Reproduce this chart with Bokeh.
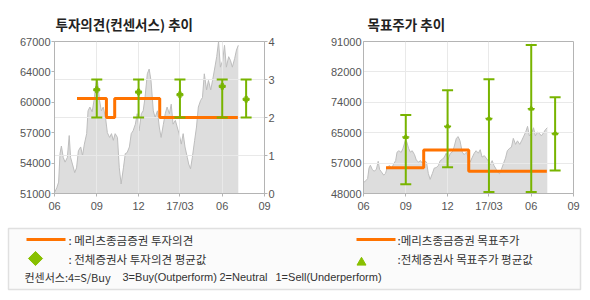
import numpy as np
import pandas as pd
from bokeh.plotting import figure
from bokeh.models import Range1d, LinearAxis, FixedTicker
from bokeh.layouts import column, row
from bokeh.embed import file_html
from bokeh.resources import INLINE
from bokeh.core.properties import value

# ---------------- data ----------------
price_dates = [
    "2016-06-01", "2016-06-06", "2016-06-10", "2016-06-13", "2016-06-16", "2016-06-20",
    "2016-06-24", "2016-06-29", "2016-07-03", "2016-07-06", "2016-07-10", "2016-07-15",
    "2016-07-19", "2016-07-23", "2016-07-28", "2016-08-01", "2016-08-05", "2016-08-10",
    "2016-08-13", "2016-08-17", "2016-08-22", "2016-08-26", "2016-08-31", "2016-09-03",
    "2016-09-07", "2016-09-11", "2016-09-15", "2016-09-20", "2016-09-24", "2016-09-29",
    "2016-10-03", "2016-10-07", "2016-10-11", "2016-10-16", "2016-10-20", "2016-10-24",
    "2016-10-29", "2016-11-02", "2016-11-06", "2016-11-11", "2016-11-15", "2016-11-19",
    "2016-11-24", "2016-11-28", "2016-12-02", "2016-12-07", "2016-12-11", "2016-12-15",
    "2016-12-20", "2016-12-24", "2016-12-28", "2017-01-02", "2017-01-06", "2017-01-11",
    "2017-01-15", "2017-01-19", "2017-01-24", "2017-01-28", "2017-02-01", "2017-02-06",
    "2017-02-10", "2017-02-14", "2017-02-19", "2017-02-23", "2017-02-27", "2017-03-04",
    "2017-03-08", "2017-03-12", "2017-03-17", "2017-03-20", "2017-03-24", "2017-03-28",
    "2017-04-02", "2017-04-06", "2017-04-10", "2017-04-15", "2017-04-19", "2017-04-23",
    "2017-04-28", "2017-05-02", "2017-05-07", "2017-05-11", "2017-05-15", "2017-05-20",
    "2017-05-24", "2017-05-28", "2017-06-02", "2017-06-06", "2017-06-10", "2017-06-15",
    "2017-06-19", "2017-06-23", "2017-06-28", "2017-07-02", "2017-07-06",
]
price_values = [
    51100, 51600, 52200, 55200, 56000, 54800,
    54300, 54800, 57100, 54800, 54100, 53200,
    53700, 55500, 55900, 55000, 56200, 57300,
    59700, 60100, 59600, 60800, 63000, 62700,
    60800, 59700, 60100, 59000, 57400, 56900,
    57300, 56600, 57300, 56900, 53700, 52000,
    53700, 55200, 55300, 55900, 57300, 57600,
    58300, 59400, 57600, 59400, 59700, 61100,
    63600, 64100, 62900, 59700, 59000, 59700,
    58000, 56900, 58300, 59400, 60100, 59400,
    60400, 58300, 58700, 58000, 57300, 56200,
    57300, 55900, 54800, 54100, 53600, 54800,
    56600, 58000, 60100, 60800, 61100, 63600,
    61900, 62900, 61900, 62900, 64000, 65400,
    67000, 64300, 65000, 66600, 64300, 65400,
    65000, 64300, 65200, 66100, 66600,
]

# Meritz investment opinion (step changes) and target price
opinion_dates = ["2016-07-20", "2016-09-22", "2016-10-10", "2017-01-16", "2017-07-05"]
opinion_values = [2.5, 2.0, 2.5, 2.0, 2.0]
target_dates = ["2016-07-20", "2016-10-10", "2017-01-16", "2017-07-05"]
target_values = [55300, 60300, 54300, 54300]

# consensus (all brokers)
cons_dates = ["2016-09-01", "2016-12-01", "2017-03-01", "2017-06-01", "2017-07-23"]
cons_op_avg = [2.73, 2.67, 2.60, 2.82, 2.48]
cons_op_min = [2, 2, 2, 2, 2]
cons_op_max = [3, 3, 3, 3, 3]
cons_tp_avg = [64000, 67000, 69200, 72000, 65000]
cons_tp_min = [50600, 55400, 48400, 48400, 54500]
cons_tp_max = [70200, 77200, 80300, 90000, 75200]

x_tick_dates = ["2016-06-01", "2016-09-01", "2016-12-01", "2017-03-01", "2017-06-01", "2017-09-01"]
x_tick_labels = ["06", "09", "12", "17/03", "06", "09"]

left_price_ticks = [51000, 54200, 57400, 60600, 63800, 67000]
left_price_labels = ["51000", "54000", "57000", "60000", "64000", "67000"]
opinion_ticks = [0, 1, 2, 3, 4]
right_price_ticks = [48000, 56600, 65200, 73800, 82400, 91000]
right_price_labels = ["48000", "57000", "65000", "74000", "82000", "91000"]

title_left = "투자의견(컨센서스) 추이"
title_right = "목표주가 추이"

# ---------------- styles ----------------
ORANGE = "#ff7300"
GREEN = "#78b400"
FILL = "#dddddd"
EDGE = "#bdbdbd"
GRID = "#e9e9e9"
FRAME = "#b4b4b4"
LABEL = "#555555"
KFONT = "Noto Sans CJK KR"
NFONT = "Liberation Sans"

pdates = pd.to_datetime(price_dates)
odates = pd.to_datetime(opinion_dates)
tdates = pd.to_datetime(target_dates)
cdates = pd.to_datetime(cons_dates)
xt = pd.to_datetime(x_tick_dates)
xt_ms = [int(t.value // 10**6) for t in xt]
x_overrides = {m: l for m, l in zip(xt_ms, x_tick_labels)}


def style_common(p, title, offset):
    p.title.text = title
    p.title.align = "left"
    p.title.offset = offset
    p.title.standoff = 16
    p.title.text_font = KFONT
    p.title.text_font_size = "13.5px"
    p.title.text_font_style = "bold"
    p.title.text_color = "#222222"
    p.outline_line_color = FRAME
    p.xaxis.ticker = FixedTicker(ticks=xt_ms)
    p.xaxis.major_label_overrides = x_overrides
    p.xgrid.ticker = FixedTicker(ticks=xt_ms[1:-1])
    p.grid.grid_line_color = GRID
    p.grid.grid_line_width = 1
    for ax in p.axis:
        ax.axis_line_color = FRAME
        ax.major_tick_line_color = FRAME
        ax.major_tick_in = 0
        ax.major_tick_out = 3
        ax.major_label_text_font = NFONT
        ax.major_label_text_font_size = "11px"
        ax.major_label_text_color = LABEL
        ax.minor_tick_line_color = None
    p.xaxis.major_label_standoff = 3


# ---------------- left chart ----------------
p1 = figure(width=295, height=222, x_axis_type="datetime",
            x_range=Range1d(xt[0], xt[-1]), y_range=Range1d(0, 4),
            y_axis_location="right", output_backend="svg", toolbar_location=None,
            min_border_left=54, min_border_right=31, min_border_top=41, min_border_bottom=29)
p1.extra_y_ranges = {"price": Range1d(left_price_ticks[0], left_price_ticks[-1])}
lax = LinearAxis(y_range_name="price", ticker=FixedTicker(ticks=left_price_ticks),
                 major_label_overrides={t: l for t, l in zip(left_price_ticks, left_price_labels)})
p1.add_layout(lax, "left")
for ax in p1.yaxis:
    if ax is not lax:
        ax.ticker = FixedTicker(ticks=opinion_ticks)
p1.ygrid.ticker = FixedTicker(ticks=opinion_ticks[1:-1])
style_common(p1, title_left, 1)
for ax in p1.yaxis:
    ax.major_label_standoff = 1

p1.varea(x=pdates, y1=left_price_ticks[0], y2=price_values, fill_color=FILL,
         y_range_name="price", level="image")
p1.line(pdates, price_values, line_color=EDGE, line_width=1, y_range_name="price", level="image")
p1.step(odates, opinion_values, mode="after", line_color=ORANGE, line_width=3)
p1.segment(x0=cdates, y0=cons_op_min, x1=cdates, y1=cons_op_max, line_color=GREEN, line_width=2)
p1.scatter(cdates, cons_op_max, marker="dash", size=11, line_color=GREEN, line_width=2)
p1.scatter(cdates, cons_op_min, marker="dash", size=11, line_color=GREEN, line_width=2)
p1.scatter(cdates, cons_op_avg, marker="plus", size=6, fill_color=GREEN, line_color=GREEN)

# ---------------- right chart ----------------
p2 = figure(width=295, height=222, x_axis_type="datetime",
            x_range=Range1d(xt[0], xt[-1]),
            y_range=Range1d(right_price_ticks[0], right_price_ticks[-1]),
            output_backend="svg", toolbar_location=None,
            min_border_left=68, min_border_right=17, min_border_top=39, min_border_bottom=29)
p2.yaxis.ticker = FixedTicker(ticks=right_price_ticks)
p2.yaxis.major_label_overrides = {t: l for t, l in zip(right_price_ticks, right_price_labels)}
p2.ygrid.ticker = FixedTicker(ticks=right_price_ticks[1:-1])
style_common(p2, title_right, 4)
p2.yaxis.major_tick_out = 0
p2.yaxis.major_label_standoff = 2

p2.varea(x=pdates, y1=right_price_ticks[0], y2=price_values, fill_color=FILL, level="image")
p2.line(pdates, price_values, line_color=EDGE, line_width=1, level="image")
p2.step(tdates, target_values, mode="after", line_color=ORANGE, line_width=3)
p2.segment(x0=cdates, y0=cons_tp_min, x1=cdates, y1=cons_tp_max, line_color=GREEN, line_width=2)
p2.scatter(cdates, cons_tp_max, marker="dash", size=11, line_color=GREEN, line_width=2)
p2.scatter(cdates, cons_tp_min, marker="dash", size=11, line_color=GREEN, line_width=2)
p2.scatter(cdates, cons_tp_avg, marker="triangle", size=5, fill_color=GREEN, line_color=GREEN)
p2.scatter(cdates, cons_tp_avg, marker="dash", size=7, line_color=GREEN, line_width=1.5)

# ---------------- legend panel ----------------
pl = figure(width=590, height=78, x_range=Range1d(0, 590), y_range=Range1d(78, 0),
            x_axis_location=None, y_axis_location=None, output_backend="svg",
            toolbar_location=None, min_border=0)
pl.grid.visible = False
pl.outline_line_color = None
pl.quad(left=8, right=580, top=6, bottom=67, fill_color="#fbfbfb",
        line_color="#e0e0e0", line_width=1.5)
pl.line([26, 65], [17, 17], line_color=ORANGE, line_width=3)
pl.line([356, 395], [17, 17], line_color=ORANGE, line_width=3)
pl.scatter([35], [36], marker="square", angle=np.pi / 4, size=10,
           fill_color="#88c000", line_color="#88c000")
pl.scatter([361], [40], marker="triangle", size=9, fill_color="#88c000", line_color="#88c000")
pl.text(x=[68, 68, 397, 397], y=[17, 36, 17, 36],
        text=[": 메리츠종금증권 투자의견", ": 전체증권사 투자의견 평균값",
              ":메리츠종금증권 목표주가", ":전체증권사 목표주가 평균값"],
        text_baseline="middle", text_font=value(KFONT), text_font_size="11.5px",
        text_color="#333333")
pl.text(x=[24], y=[54], text=["컨센서스:4=S/Buy"],
        text_baseline="middle", text_font=value(KFONT), text_font_size="11px",
        text_color="#333333")
pl.text(x=[122, 219, 275], y=[54, 54, 54],
        text=["3=Buy(Outperform)", "2=Neutral", "1=Sell(Underperform)"],
        text_baseline="middle", text_font=value(NFONT), text_font_size="11px",
        text_color="#333333")

layout = column(row(p1, p2), pl)
open("out.html", "w").write(file_html(layout, INLINE))
